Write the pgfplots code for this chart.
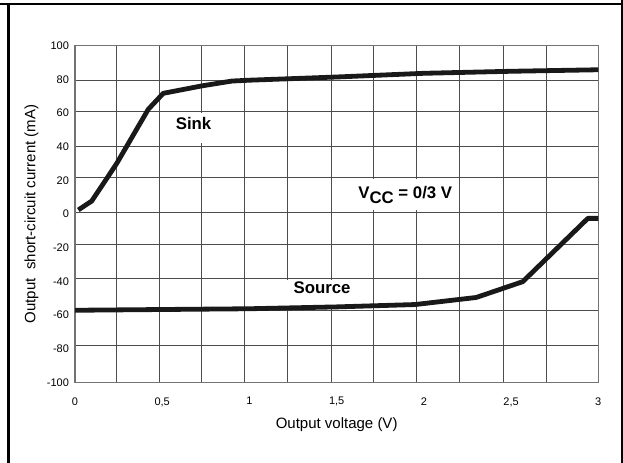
\documentclass[border=0pt]{standalone}
\usepackage{fontspec}
\setmainfont{Liberation Sans}
\usepackage{pgfplots}
\pgfplotsset{compat=1.18}

\begin{document}
\begin{tikzpicture}
\path[use as bounding box] (0,0) rectangle (623bp,463bp);
\begin{axis}[
    at={(75bp,80.7bp)}, anchor=south west,
    scale only axis, width=523.3bp, height=336.6bp,
    xmin=0, xmax=3, ymin=-100, ymax=100,
    xtick={0,0.5,1,1.5,2,2.5,3},
    xticklabels={0,{0,5},1,{1,5},2,{2,5},3},
    ytick={-100,-80,-60,-40,-20,0,20,40,60,80,100},
    yticklabels={-100,-80,-60,-40,-20,0,20,40,60,80,100},
    % grid lines sit where the original drew them (not quite evenly spaced)
    minor xtick={0.239,0.483,0.727,0.971,1.220,1.468,1.710,1.955,2.204,2.456,2.705},
    minor ytick={-78.1,-57.0,-38.2,-17.8,1.0,21.8,40.4,61.0,79.6},
    xminorgrids=true, yminorgrids=true,
    minor grid style={black!70, line width=0.7bp},
    major tick length=0pt, minor tick length=0pt,
    axis line style={black!55, line width=1.1bp},
    tick label style={font=\fontsize{11bp}{13bp}\selectfont},
    xticklabel style={yshift=-11.5bp},
    yticklabel style={xshift=-2.5bp},
    label style={font=\fontsize{15bp}{18bp}\selectfont},
    xlabel={Output voltage (V)},
    ylabel={Output~~short-circuit current (mA)},
    xlabel style={at={(axis description cs:0.5,-0.1367)}, anchor=base},
    ylabel style={at={(axis description cs:-0.0755,0.5)}, anchor=base},
]
% white patches behind the labels
\fill[white] (axis cs:0.60,42) rectangle (axis cs:0.78,59.8);
\fill[white] (axis cs:1.64,2.4) rectangle (axis cs:2.12,20.8);
\fill[white] (axis cs:1.19,-39.4) rectangle (axis cs:1.60,-55);

% sink
\addplot[black!90, line width=4.8bp, line join=round] coordinates {
    (0.019,2.4) (0.096,7.7) (0.239,30) (0.42,62.2) (0.506,71.7)
    (0.726,76.1) (0.9,79.0) (1.0,79.5) (1.5,81.4) (2.0,83.6)
    (2.5,84.8) (3.0,85.7)
};
% source
\addplot[black!90, line width=4.8bp, line join=round] coordinates {
    (0,-57.2) (1.0,-56.3) (1.5,-55.2) (1.95,-53.8) (2.3,-49.6)
    (2.567,-40.2) (2.94,-2.6) (3.0,-2.6)
};

\node[anchor=base west, inner sep=0pt, font=\fontsize{16.8bp}{20bp}\selectfont\bfseries]
    at (axis cs:0.577,50.3) {Sink};
\node[anchor=base west, inner sep=0pt, font=\fontsize{16.8bp}{20bp}\selectfont\bfseries]
    at (axis cs:1.252,-47.5) {Source};
\node[anchor=base west, inner sep=0pt, font=\fontsize{16.8bp}{20bp}\selectfont\bfseries]
    at (axis cs:1.623,9.3) {V\raisebox{-5bp}{CC} = 0/3 V};
\end{axis}
% outer frame
\draw[line width=1.7bp] (0,459.3bp) -- (623bp,459.3bp);
\draw[line width=2.4bp] (8.5bp,459.3bp) -- (8.5bp,0);
\draw[line width=2bp] (622bp,463bp) -- (622bp,0);
\end{tikzpicture}
\end{document}
